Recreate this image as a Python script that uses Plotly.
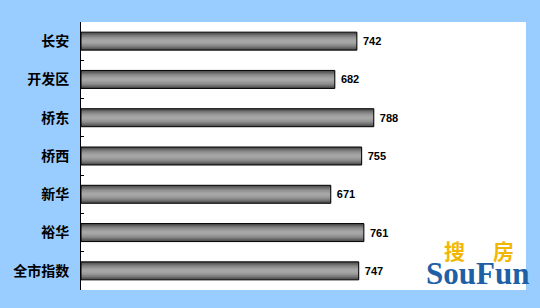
import plotly.graph_objects as go

categories = ["长安", "开发区", "桥东", "桥西", "新华", "裕华", "全市指数"]
values = [742, 682, 788, 755, 671, 761, 747]

x_min = -8.4
x_max = 1202

fig = go.Figure()

# cylinder-like gradient via overlaid bars of decreasing thickness
shades = [("#4a4a4a", 0.47), ("#5e5e5e", 0.41), ("#727272", 0.35), ("#848484", 0.29),
          ("#939393", 0.22), ("#9e9e9e", 0.15), ("#a6a6a6", 0.08)]
for col, w in shades:
    fig.add_trace(go.Bar(
        y=categories, x=[v - x_min for v in values], base=x_min, orientation="h",
        width=w, marker=dict(color=col, line=dict(width=0)),
        hoverinfo="skip", showlegend=False))

# outline + value labels
fig.add_trace(go.Bar(
    y=categories, x=[v - x_min for v in values], base=x_min, orientation="h",
    width=0.47, marker=dict(color="rgba(0,0,0,0)", line=dict(color="#000000", width=1)),
    text=[" " + str(v) for v in values], textposition="outside", cliponaxis=False,
    textfont=dict(family="Liberation Sans, Arial", size=11, color="#000000", weight=700),
    showlegend=False))

fig.update_layout(
    barmode="overlay",
    width=540, height=308,
    margin=dict(l=81, r=14, t=22, b=18),
    paper_bgcolor="#99CCFF",
    plot_bgcolor="#FFFFFF",
    xaxis=dict(range=[x_min, x_max], visible=False, showgrid=False, zeroline=False),
    yaxis=dict(autorange="reversed", showgrid=False, zeroline=False,
               showline=True, linecolor="#000000", linewidth=1,
               ticks="inside", tickson="boundaries", ticklen=3, tickcolor="#000000",
               ticklabelstandoff=8,
               tickfont=dict(family="Noto Sans CJK SC", size=14, color="#000000", weight=700)),
    annotations=[
        dict(text="搜", x=454, y=250, xref="paper", yref="paper", showarrow=False,
             xanchor="center", yanchor="middle", borderpad=0,
             font=dict(family="Noto Sans CJK SC", size=21, color="#F2B705", weight=700)),
        dict(text="房", x=503, y=250, xref="paper", yref="paper", showarrow=False,
             xanchor="center", yanchor="middle", borderpad=0,
             font=dict(family="Noto Sans CJK SC", size=21, color="#F2B705", weight=700)),
        dict(text="SouFun", x=477, y=273, xref="paper", yref="paper", showarrow=False,
             xanchor="center", yanchor="middle", borderpad=0,
             font=dict(family="Liberation Serif", size=31, color="#1F5FA5", weight=700)),
    ],
)

# convert annotation pixel positions to paper coords
pw = 540 - 81 - 14
ph = 308 - 22 - 18
for a in fig.layout.annotations:
    px, py = a.x, a.y
    a.x = (px - 81) / pw
    a.y = 1 - (py - 22) / ph

fig.write_html("out.html")
